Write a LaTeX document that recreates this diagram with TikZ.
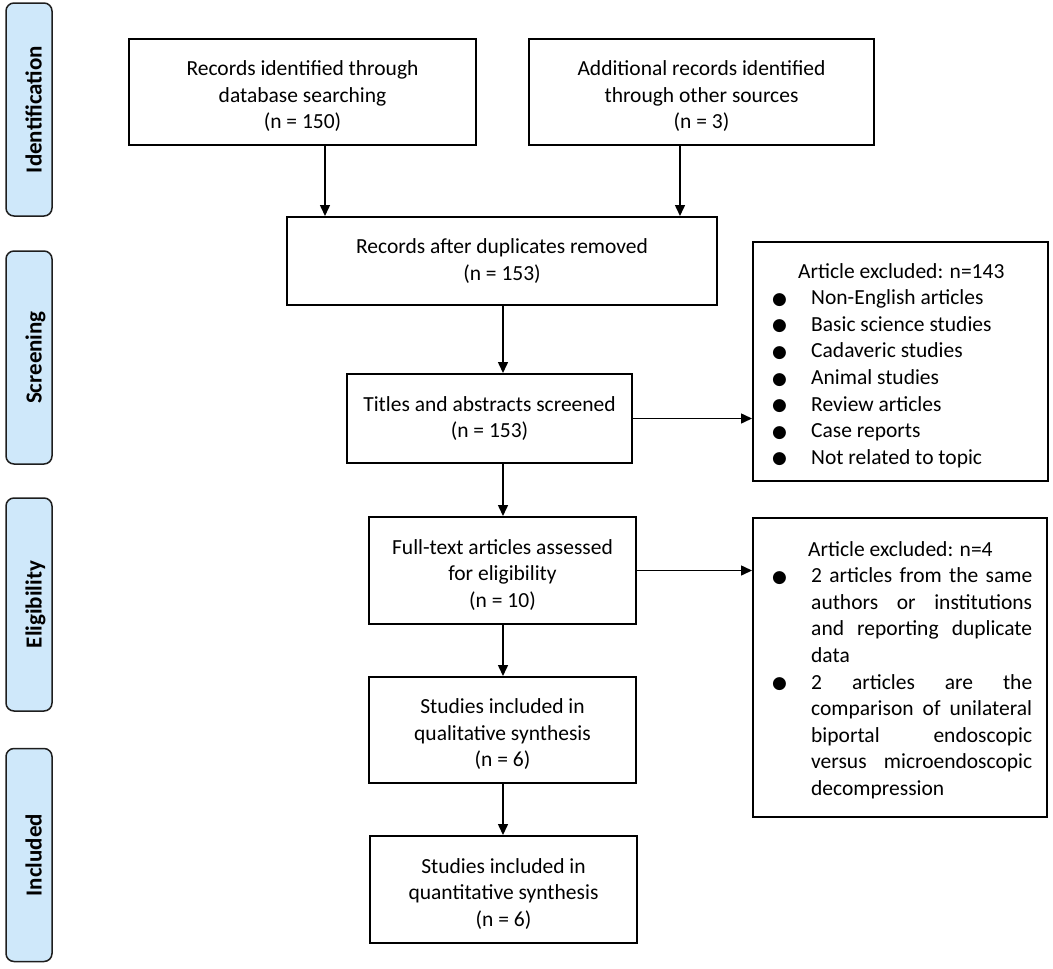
\documentclass[tikz,border=0pt]{standalone}
\usepackage{fontspec}
\setmainfont{Carlito}
\newfontfamily\symfont{DejaVu Sans}
\usetikzlibrary{arrows.meta}
\definecolor{sidefill}{RGB}{207,232,250}
\definecolor{sidedraw}{RGB}{30,30,30}
\newcommand{\blt}{\makebox[39pt][l]{\raisebox{0.5pt}{\symfont\fontsize{17}{17}\selectfont ●}}}
\newcommand{\ind}{\hspace*{39pt}}
\newcommand{\threelines}[1]{\raisebox{-5pt}[\height][\depth]{\begin{tabular}{@{}c@{}}#1\end{tabular}}}
\begin{document}
\begin{tikzpicture}[x=1pt,y=-1pt,
  every node/.style={font=\fontsize{21.5}{26.6}\selectfont},
  box/.style={draw, line width=2pt, align=center, inner sep=0pt},
  side/.style={draw=sidedraw, fill=sidefill, line width=1.5pt, rounded corners=8pt,
    rotate=90, minimum width=213pt, minimum height=46pt, inner sep=0pt,
    text height=25.4pt, text depth=0pt, font=\fontsize{23}{27}\selectfont\bfseries},
  arr/.style={line width=1.5pt, -{Triangle[length=11pt,width=10pt]}},
  listtext/.style={anchor=north west, align=left, inner sep=0pt}]
\useasboundingbox (0,0) rectangle (1053,969);

% stage labels
\node[side] (s1) at (29,109.5) {Identification};
\node[side] (s2) at (29,357.5) {Screening};
\node[side] (s3) at (29,604.5) {Eligibility};
\node[side] (s4) at (29,855) {Included};

% main boxes
\node[box, minimum width=347pt, minimum height=106pt] (A) at (302.5,92)
  {\threelines{Records identified through\\database searching\\(n = 150)}};
\node[box, minimum width=345pt, minimum height=106pt] (B) at (701.5,92)
  {\threelines{Additional records identified\\through other sources\\(n = 3)}};
\node[box, minimum width=430pt, minimum height=88pt] (C) at (502,261)
  {Records after duplicates removed\\(n = 153)};
\node[box, minimum width=285pt, minimum height=89pt] (D) at (489.5,418.5)
  {Titles and abstracts screened\\(n = 153)};
\node[box, minimum width=267pt, minimum height=107pt] (F) at (502.5,570.5)
  {\threelines{Full-text articles assessed\\for eligibility\\(n = 10)}};
\node[box, minimum width=267pt, minimum height=106pt] (G) at (502.5,730)
  {\threelines{Studies included in\\qualitative synthesis\\(n = 6)}};
\node[box, minimum width=267pt, minimum height=107pt] (H) at (503.5,889.5)
  {\threelines{Studies included in\\quantitative synthesis\\(n = 6)}};

% exclusion boxes
\node[box, minimum width=295pt, minimum height=239pt] (E) at (900.5,361.5) {};
\node[listtext] (Et) at (772,263) {%
  \hspace*{26pt}Article excluded: n=143\\
  \blt Non-English articles\\
  \blt Basic science studies\\
  \blt Cadaveric studies\\
  \blt Animal studies\\
  \blt Review articles\\
  \blt Case reports\\
  \blt Not related to topic};

\node[box, minimum width=294pt, minimum height=299pt] (E2) at (900,667.5) {};
\node[listtext] (E2t) at (772,541) {%
  \hspace*{36pt}Article excluded: n=4\\
  \blt\makebox[221pt][s]{2 articles from the same}\\
  \ind\makebox[221pt][s]{authors or institutions}\\
  \ind\makebox[221pt][s]{and reporting duplicate}\\
  \ind data\\
  \blt\makebox[221pt][s]{2 articles are the}\\
  \ind\makebox[221pt][s]{comparison of unilateral}\\
  \ind\makebox[221pt][s]{biportal endoscopic}\\
  \ind\makebox[221pt][s]{versus microendoscopic}\\
  \ind decompression};

% connectors
\coordinate (xa) at (325,0);
\coordinate (xb) at (680,0);
\coordinate (xc) at (503,0);
\draw[arr] (A.south -| xa) -- (C.north -| xa);
\draw[arr] (B.south -| xb) -- (C.north -| xb);
\draw[arr] (C.south -| xc) -- (D.north -| xc);
\draw[arr] (D.south -| xc) -- (F.north -| xc);
\draw[arr] (F.south -| xc) -- (G.north -| xc);
\draw[arr] (G.south -| xc) -- (H.north -| xc);
\draw[arr] (D.east) -- (D.east -| E.west);
\draw[arr] (F.east) -- (F.east -| E2.west);
\end{tikzpicture}
\end{document}
